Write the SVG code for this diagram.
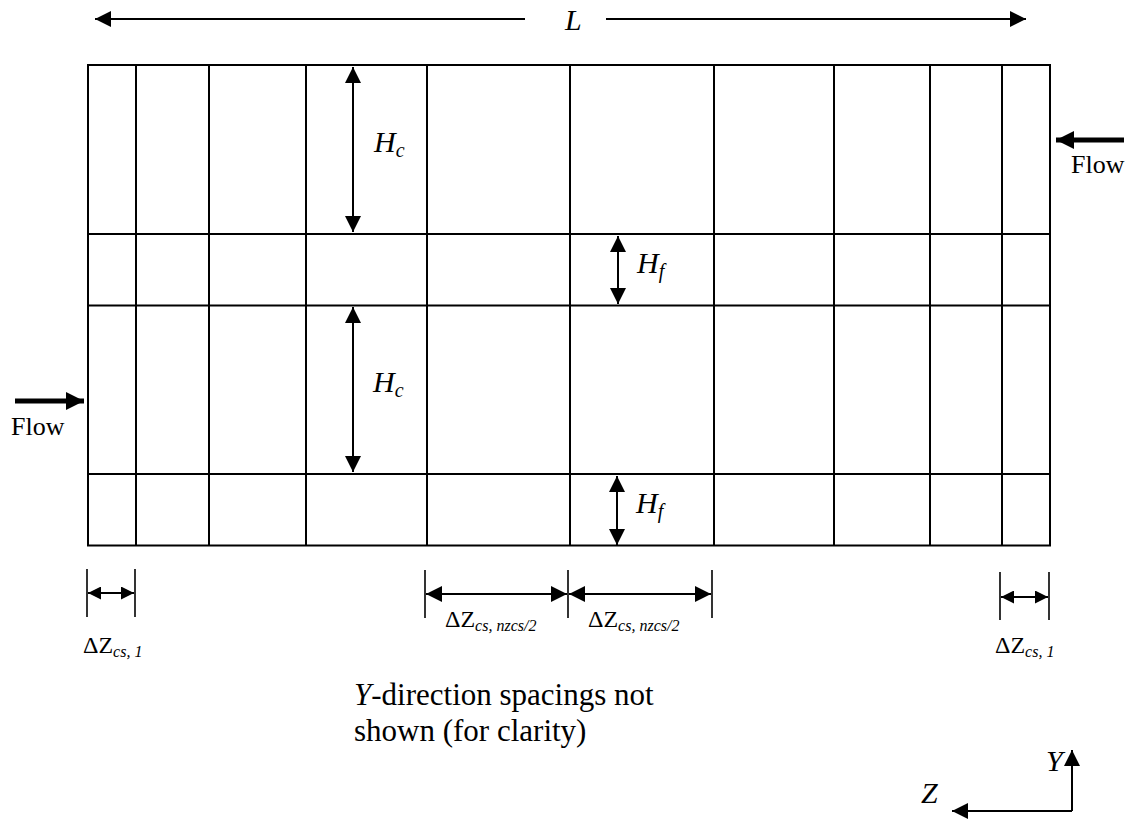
<svg xmlns="http://www.w3.org/2000/svg" width="1136" height="821" viewBox="0 0 1136 821">
<defs>
<marker id="ah" viewBox="0 0 10 10" refX="10" refY="5" markerWidth="16" markerHeight="16" markerUnits="userSpaceOnUse" orient="auto-start-reverse"><path d="M0,0 L10,5 L0,10 Z" fill="#000"/></marker>
<marker id="ahs" viewBox="0 0 10 10" refX="10" refY="5" markerWidth="13" markerHeight="13" markerUnits="userSpaceOnUse" orient="auto-start-reverse"><path d="M0,0 L10,5 L0,10 Z" fill="#000"/></marker>
<marker id="ahb" viewBox="0 0 10 10" refX="10" refY="5" markerWidth="18" markerHeight="18" markerUnits="userSpaceOnUse" orient="auto"><path d="M0,0 L10,5 L0,10 Z" fill="#000"/></marker>
</defs>
<style>
.g{stroke:#000;stroke-width:2;fill:none}
.d{stroke:#000;stroke-width:2;fill:none}
.t{stroke:#000;stroke-width:1.6}
.fl{stroke:#000;stroke-width:5;fill:none}
text{font-family:"Liberation Serif","Times New Roman",serif;fill:#000}
.it{font-style:italic}
.lab{font-size:30px;font-style:italic}
.sub{font-size:20px}
.dz{font-size:24px}
.dzs{font-size:16px;font-style:italic}
.flow{font-size:26px}
.body{font-size:31px}
</style>
<rect width="1136" height="821" fill="#fff"/>
<g id="grid">
<rect class="g" x="88" y="65" width="962" height="480.5"/>
<line class="g" x1="88" y1="234" x2="1050" y2="234"/>
<line class="g" x1="88" y1="305.5" x2="1050" y2="305.5"/>
<line class="g" x1="88" y1="474" x2="1050" y2="474"/>
<line class="g" x1="136" y1="65" x2="136" y2="545"/>
<line class="g" x1="209" y1="65" x2="209" y2="545"/>
<line class="g" x1="306" y1="65" x2="306" y2="545"/>
<line class="g" x1="427" y1="65" x2="427" y2="545"/>
<line class="g" x1="570" y1="65" x2="570" y2="545"/>
<line class="g" x1="714" y1="65" x2="714" y2="545"/>
<line class="g" x1="834" y1="65" x2="834" y2="545"/>
<line class="g" x1="930" y1="65" x2="930" y2="545"/>
<line class="g" x1="1002" y1="65" x2="1002" y2="545"/>
</g>
<g id="connectors">
<line class="d" x1="525" y1="19" x2="95" y2="19" marker-end="url(#ah)"/>
<line class="d" x1="606" y1="19" x2="1026" y2="19" marker-end="url(#ah)"/>
<line class="d" x1="353" y1="67" x2="353" y2="232" marker-start="url(#ah)" marker-end="url(#ah)"/>
<line class="d" x1="618" y1="236" x2="618" y2="304" marker-start="url(#ah)" marker-end="url(#ah)"/>
<line class="d" x1="353" y1="307" x2="353" y2="472" marker-start="url(#ah)" marker-end="url(#ah)"/>
<line class="d" x1="617" y1="476" x2="617" y2="545" marker-start="url(#ah)" marker-end="url(#ah)"/>
<line class="fl" x1="15" y1="401" x2="84" y2="401" marker-end="url(#ahb)"/>
<line class="fl" x1="1124" y1="140" x2="1056" y2="140" marker-end="url(#ahb)"/>
<line class="t" x1="87" y1="569" x2="87" y2="617"/>
<line class="t" x1="135" y1="569" x2="135" y2="617"/>
<line class="d" x1="88" y1="593" x2="134" y2="593" marker-start="url(#ahs)" marker-end="url(#ahs)"/>
<line class="t" x1="425" y1="570" x2="425" y2="618"/>
<line class="t" x1="568" y1="570" x2="568" y2="618"/>
<line class="t" x1="712" y1="570" x2="712" y2="618"/>
<line class="d" x1="426" y1="594" x2="567" y2="594" marker-start="url(#ah)" marker-end="url(#ah)"/>
<line class="d" x1="569" y1="594" x2="711" y2="594" marker-start="url(#ah)" marker-end="url(#ah)"/>
<line class="t" x1="1000" y1="572" x2="1000" y2="620"/>
<line class="t" x1="1049" y1="572" x2="1049" y2="620"/>
<line class="d" x1="1001" y1="597" x2="1048" y2="597" marker-start="url(#ahs)" marker-end="url(#ahs)"/>
<path class="d" d="M1072,811 L1072,750" marker-end="url(#ah)"/>
<path class="d" d="M1072,811 L952,811" marker-end="url(#ah)"/>
</g>
<g id="labels">
<text class="lab" x="565" y="30">L</text>
<text class="lab" x="374" y="152">H<tspan class="sub" dy="5">c</tspan></text>
<text class="lab" x="637" y="273">H<tspan class="sub" dy="5">f</tspan></text>
<text class="lab" x="373" y="392">H<tspan class="sub" dy="5">c</tspan></text>
<text class="lab" x="636" y="513">H<tspan class="sub" dy="5">f</tspan></text>
<text class="flow" x="1071" y="173">Flow</text>
<text class="flow" x="11" y="435">Flow</text>
<text class="dz" x="83" y="653">ΔZ<tspan class="dzs" dy="4">cs, 1</tspan></text>
<text class="dz" x="445" y="627">ΔZ<tspan class="dzs" dy="4">cs, nzcs/2</tspan></text>
<text class="dz" x="588" y="627">ΔZ<tspan class="dzs" dy="4">cs, nzcs/2</tspan></text>
<text class="dz" x="995" y="653">ΔZ<tspan class="dzs" dy="4">cs, 1</tspan></text>
<text class="body" x="354" y="705"><tspan class="it">Y</tspan>-direction spacings not</text>
<text class="body" x="354" y="741">shown (for clarity)</text>
<text class="lab" x="1046" y="771">Y</text>
<text class="lab" x="921" y="803">Z</text>
</g>
</svg>
